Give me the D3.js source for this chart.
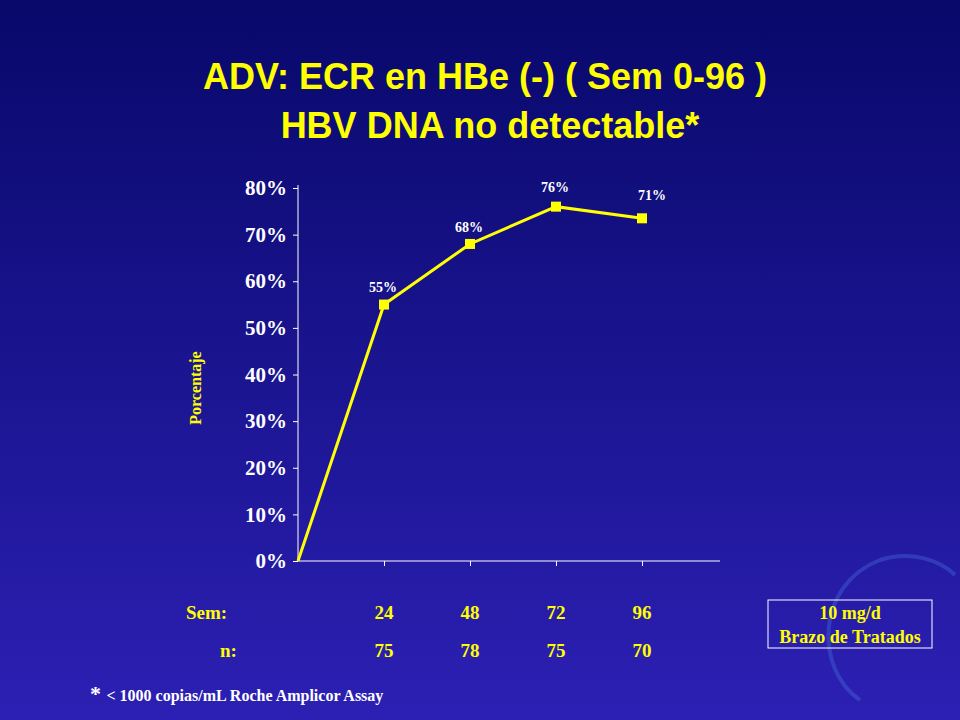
<!DOCTYPE html>
<html>
<head>
<meta charset="utf-8">
<script src="https://cdn.jsdelivr.net/npm/d3@7"></script>
<style>
  body { margin: 0; }
  svg text { font-family: "Liberation Serif", "Times New Roman", serif; font-weight: bold; }
</style>
</head>
<body>
<svg id="chart" width="960" height="720"></svg>
<script>
// Data
var weeks = [0, 24, 48, 72, 96];
var pct = [0, 55, 68, 76, 73.5];
var pctLabels = ["", "55%", "68%", "76%", "71%"];
var nValues = ["75", "78", "75", "70"];
var yTicks = [0, 10, 20, 30, 40, 50, 60, 70, 80];

var svg = d3.select("#chart");

// Background gradient
var grad = svg.append("defs").append("linearGradient")
  .attr("id", "bg").attr("x1", 0).attr("y1", 0).attr("x2", 0).attr("y2", 1);
grad.append("stop").attr("offset", "0%").attr("stop-color", "#08086a");
grad.append("stop").attr("offset", "100%").attr("stop-color", "#2c20b4");
svg.append("rect").attr("width", 960).attr("height", 720).attr("fill", "url(#bg)");

// Decorative arc bottom-right (faint)
svg.append("path")
  .attr("d", "M 860 700 C 815 670, 815 585, 880 560 C 910 550, 940 560, 955 575")
  .attr("fill", "none").attr("stroke", "#4a78e0").attr("stroke-width", 4).attr("opacity", 0.35);

// Title
svg.append("text").attr("x", 485).attr("y", 89).attr("text-anchor", "middle")
  .style("font-family", "Liberation Sans, Arial, sans-serif")
  .attr("font-size", 36).attr("fill", "#ffff00")
  .text("ADV: ECR en HBe (-) ( Sem 0-96 )");
svg.append("text").attr("x", 490).attr("y", 138).attr("text-anchor", "middle")
  .style("font-family", "Liberation Sans, Arial, sans-serif")
  .attr("font-size", 36).attr("fill", "#ffff00")
  .text("HBV DNA no detectable*");

var x = d3.scaleLinear().domain([0, 96]).range([298, 642]);
var y = d3.scaleLinear().domain([0, 80]).range([561, 188]);

// Y axis
var yAxis = svg.append("g").attr("transform", "translate(298,0)")
  .call(d3.axisLeft(y).tickValues(yTicks).tickSize(5).tickFormat(function(d) { return d + "%"; }));
yAxis.select(".domain").attr("stroke", "#fff").attr("d", "M0,561V185");
yAxis.selectAll(".tick line").attr("stroke", "#fff");
yAxis.selectAll(".tick text").attr("fill", "#fff").attr("font-size", 21)
  .attr("x", -11).style("font-family", "Liberation Serif, serif").style("font-weight", "bold");

// X axis
var xAxis = svg.append("g").attr("transform", "translate(0,561)")
  .call(d3.axisBottom(x).tickValues(weeks.slice(1)).tickSize(5).tickFormat(""));
xAxis.select(".domain").attr("stroke", "#fff").attr("d", "M298,0H720");
xAxis.selectAll(".tick line").attr("stroke", "#fff");

// Line
svg.append("path")
  .datum(weeks.map(function(w, i) { return [w, pct[i]]; }))
  .attr("fill", "none").attr("stroke", "#ffff00").attr("stroke-width", 3)
  .attr("d", d3.line().x(function(d) { return x(d[0]); }).y(function(d) { return y(d[1]); }));

// Markers
svg.selectAll(".pt").data(weeks.slice(1)).enter().append("rect")
  .attr("x", function(d) { return x(d) - 5; })
  .attr("y", function(d, i) { return y(pct[i + 1]) - 5; })
  .attr("width", 10).attr("height", 10).attr("fill", "#ffff00");

// Point labels
var labelDy = [0, -13, -12, -15, -12];
svg.selectAll(".lbl").data(weeks.slice(1)).enter().append("text")
  .attr("x", function(d) { return x(d) + (d === 96 ? 10 : -1); })
  .attr("y", function(d, i) { return y(pct[i + 1]) + labelDy[i + 1] - (d === 96 ? 6 : 0); })
  .attr("text-anchor", "middle").attr("fill", "#fff").attr("font-size", 14)
  .text(function(d, i) { return pctLabels[i + 1]; });

// Axis title
svg.append("text").attr("transform", "translate(201,388) rotate(-90)")
  .attr("text-anchor", "middle").attr("fill", "#ffff00").attr("font-size", 16).text("Porcentaje");

// Sem / n rows
svg.append("text").attr("x", 186).attr("y", 619).attr("fill", "#ffff00").attr("font-size", 19).text("Sem:");
svg.append("text").attr("x", 220).attr("y", 657).attr("fill", "#ffff00").attr("font-size", 19).text("n:");
svg.selectAll(".sem").data(weeks.slice(1)).enter().append("text")
  .attr("x", function(d) { return x(d); }).attr("y", 619).attr("text-anchor", "middle")
  .attr("fill", "#ffff00").attr("font-size", 19).text(function(d) { return d; });
svg.selectAll(".nv").data(weeks.slice(1)).enter().append("text")
  .attr("x", function(d) { return x(d); }).attr("y", 657).attr("text-anchor", "middle")
  .attr("fill", "#ffff00").attr("font-size", 19).text(function(d, i) { return nValues[i]; });

// Legend box
svg.append("rect").attr("x", 768).attr("y", 600).attr("width", 164).attr("height", 48)
  .attr("fill", "none").attr("stroke", "#fff").attr("stroke-width", 1);
svg.append("text").attr("x", 850).attr("y", 619).attr("text-anchor", "middle")
  .attr("fill", "#ffff00").attr("font-size", 18).text("10 mg/d");
svg.append("text").attr("x", 850).attr("y", 643).attr("text-anchor", "middle")
  .attr("fill", "#ffff00").attr("font-size", 18).text("Brazo de Tratados");

// Footnote
var foot = svg.append("text").attr("x", 90).attr("y", 701).attr("fill", "#fff").attr("font-size", 16);
foot.append("tspan").attr("font-size", 22).text("* ");
foot.append("tspan").text("< 1000 copias/mL Roche Amplicor Assay");
</script>
</body>
</html>
